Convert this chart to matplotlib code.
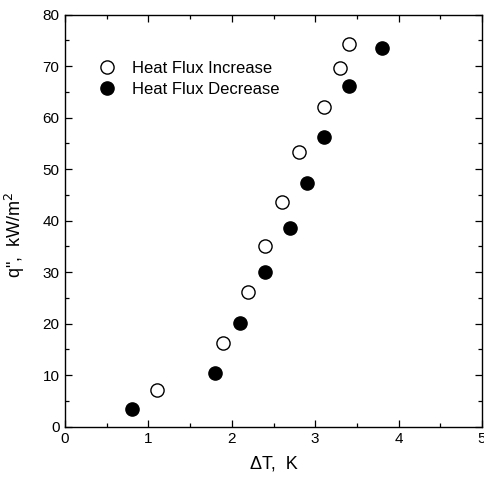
import matplotlib
matplotlib.use("Agg")
import matplotlib.pyplot as plt
from matplotlib.ticker import MultipleLocator

plt.rcParams['font.family'] = ['Liberation Sans', 'DejaVu Sans']

inc_dT = [1.1, 1.9, 2.2, 2.4, 2.6, 2.8, 3.1, 3.3, 3.4]
inc_q = [7.1, 16.2, 26.1, 35.1, 43.6, 53.3, 62.1, 69.7, 74.4]
dec_dT = [0.8, 1.8, 2.1, 2.4, 2.7, 2.9, 3.1, 3.4, 3.8]
dec_q = [3.4, 10.5, 20.1, 30.0, 38.5, 47.3, 56.2, 66.2, 73.6]
labels = ["Heat Flux Increase", "Heat Flux Decrease"]

fig = plt.figure(figsize=(4.84, 4.86), dpi=100)
ax = fig.add_axes([65/484, 1-426.7/486, (482-65)/484, (426.7-14.7)/486])

ax.plot(inc_dT, inc_q, 'o', ms=9.5, mfc='white', mec='black', mew=1.0, ls='none', label=labels[0])
ax.plot(dec_dT, dec_q, 'o', ms=9.5, mfc='black', mec='black', mew=1.0, ls='none', label=labels[1])

ax.set_xlim(0, 5)
ax.set_ylim(0, 80)
ax.xaxis.set_major_locator(MultipleLocator(1))
ax.xaxis.set_minor_locator(MultipleLocator(0.5))
ax.yaxis.set_major_locator(MultipleLocator(10))
ax.yaxis.set_minor_locator(MultipleLocator(5))
ax.tick_params(which='both', direction='in', top=True, right=True, labelsize=11, width=0.9)
ax.tick_params(which='major', length=5, pad=4)
ax.tick_params(which='minor', length=3)
for s in ax.spines.values():
    s.set_linewidth(1.0)

ax.set_xlabel('ΔT,  K', fontsize=13)
ax.xaxis.set_label_coords(0.5, -0.071)
ax.set_ylabel('q",  kW/m$^2$', fontsize=13)
ax.yaxis.set_label_coords(-0.091, 0.465)

ax.legend(loc='upper left', bbox_to_anchor=(0.077, 0.888), frameon=False, fontsize=12,
          handletextpad=0.9, labelspacing=0.35, handlelength=1.2, borderaxespad=0,
          borderpad=0)

fig.savefig('out.png', dpi=100)
